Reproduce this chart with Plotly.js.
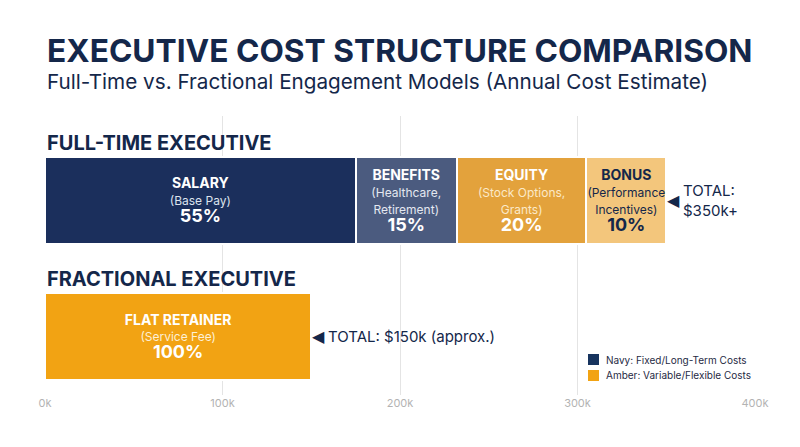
<!DOCTYPE html>
<html>
<head>
<meta charset="utf-8">
<script src="https://cdn.plot.ly/plotly-3.0.1.min.js"></script>
<style>
  html, body { margin: 0; padding: 0; background: #ffffff; }
  #chart { width: 800px; height: 447px; }
</style>
</head>
<body>
<div id="chart"></div>
<script>
// full-time components (annual cost in $k, as drawn)
const ftSegments = ['SALARY', 'BENEFITS', 'EQUITY', 'BONUS'];
const ftNotes = ['(Base Pay)', '(Healthcare,<br>Retirement)', '(Stock Options,<br>Grants)', '(Performance<br>Incentives)'];
const ftShares = [55, 15, 20, 10];
const ftCosts = [175, 57, 73, 45];
const ftColors = ['#1b2f5c', '#4b5b7f', '#e3a23c', '#f3c67c'];
const ftTextColors = ['#ffffff', '#ffffff', '#ffffff', '#14274a'];
const ftNoteColors = ['#dde3ee', '#e4e8f0', '#fbe9c8', '#14274a'];

// fractional
const frSegments = ['FLAT RETAINER'];
const frNotes = ['(Service Fee)'];
const frShares = [100];
const frCosts = [150];

const rows = ['Fractional', 'Full-Time'];
const xTicks = [0, 100, 200, 300, 400];
const xTickText = xTicks.map(v => v + 'k');

const navy = '#14274a';
const font = 'Inter, "Liberation Sans", Arial, sans-serif';

function barText(seg, note, share, noteColor) {
  return '<b><span style="font-size:14px">' + seg + '</span></b><br><span style="font-size:12px;color:' + noteColor + '">' + note +
    '</span><br><b><span style="font-size:18px">' + share + '%</span></b>';
}

let traces = [];
for (let i = 0; i < ftSegments.length; i++) {
  traces.push({
    type: 'bar',
    orientation: 'h',
    x: [ftCosts[i]],
    y: ['Full-Time'],
    width: 0.64,
    marker: {color: ftColors[i], line: {color: '#ffffff', width: 2}},
    text: [barText(ftSegments[i], ftNotes[i], ftShares[i], ftNoteColors[i])],
    textposition: 'inside',
    insidetextanchor: 'middle',
    textangle: 0,
    constraintext: 'none',
    textfont: {family: font, size: 13, color: ftTextColors[i]},
    hoverinfo: 'none',
    showlegend: false
  });
}
traces.push({
  type: 'bar',
  orientation: 'h',
  x: frCosts,
  y: ['Fractional'],
  width: 0.64,
  marker: {color: '#f2a313', line: {color: '#ffffff', width: 2}},
  text: [barText(frSegments[0], frNotes[0], frShares[0], '#fdf0d6')],
  textposition: 'inside',
  insidetextanchor: 'middle',
  textangle: 0,
  constraintext: 'none',
  textfont: {family: font, size: 13, color: '#ffffff'},
  hoverinfo: 'none',
  showlegend: false
});

const ftTotal = ftCosts.reduce((a, b) => a + b, 0);
const frTotal = frCosts.reduce((a, b) => a + b, 0);

const annotations = [
  {xref: 'paper', yref: 'paper', x: 0, y: 1.235, xanchor: 'left', yanchor: 'middle', showarrow: false,
   text: '<b>EXECUTIVE COST STRUCTURE COMPARISON</b>', font: {family: font, size: 31.7, color: navy}},
  {xref: 'paper', yref: 'paper', x: 0, y: 1.122, xanchor: 'left', yanchor: 'middle', showarrow: false,
   text: 'Full-Time vs. Fractional Engagement Models (Annual Cost Estimate)', font: {family: font, size: 20.7, color: navy}},
  {xref: 'paper', yref: 'paper', x: 0, y: 0.903, xanchor: 'left', yanchor: 'middle', showarrow: false,
   text: '<b>FULL-TIME EXECUTIVE</b>', font: {family: font, size: 20, color: navy}},
  {xref: 'paper', yref: 'paper', x: 0, y: 0.414, xanchor: 'left', yanchor: 'middle', showarrow: false,
   text: '<b>FRACTIONAL EXECUTIVE</b>', font: {family: font, size: 20, color: navy}},
  {x: ftTotal, y: 'Full-Time', xanchor: 'left', yanchor: 'middle', xshift: -1, showarrow: false,
   text: '◀', font: {family: 'DejaVu Sans', size: 16, color: navy}},
  {x: ftTotal, y: 'Full-Time', xanchor: 'left', yanchor: 'middle', xshift: 15, showarrow: false, align: 'left',
   text: 'TOTAL:<br>$' + ftTotal + 'k+', font: {family: font, size: 15, color: navy}},
  {x: frTotal, y: 'Fractional', xanchor: 'left', yanchor: 'middle', xshift: -1, showarrow: false,
   text: '◀', font: {family: 'DejaVu Sans', size: 16, color: navy}},
  {x: frTotal, y: 'Fractional', xanchor: 'left', yanchor: 'middle', xshift: 15, showarrow: false,
   text: 'TOTAL: $' + frTotal + 'k (approx.)', font: {family: font, size: 15, color: navy}},
  {xref: 'paper', yref: 'paper', x: 0.787, y: 0.127, xanchor: 'left', yanchor: 'middle', showarrow: false,
   text: 'Navy: Fixed/Long-Term Costs', font: {family: font, size: 10, color: '#1f2a44'}},
  {xref: 'paper', yref: 'paper', x: 0.787, y: 0.070, xanchor: 'left', yanchor: 'middle', showarrow: false,
   text: 'Amber: Variable/Flexible Costs', font: {family: font, size: 10, color: '#1f2a44'}}
];

const shapes = [
  {type: 'rect', xref: 'paper', yref: 'paper', x0: 0.7648, x1: 0.7803, y0: 0.1075, y1: 0.147,
   fillcolor: '#17345e', line: {width: 0}},
  {type: 'rect', xref: 'paper', yref: 'paper', x0: 0.7648, x1: 0.7803, y0: 0.0502, y1: 0.0896,
   fillcolor: '#f2a313', line: {width: 0}}
];

const layout = {
  width: 800,
  height: 447,
  margin: {l: 45, r: 45, t: 116, b: 52},
  paper_bgcolor: '#ffffff',
  plot_bgcolor: '#ffffff',
  barmode: 'stack',
  bargap: 0,
  showlegend: false,
  xaxis: {
    range: [0, 400],
    tickmode: 'array',
    tickvals: xTicks,
    ticktext: xTickText,
    showgrid: true,
    gridcolor: '#e4e4e4',
    gridwidth: 1,
    zeroline: false,
    showline: false,
    ticks: '',
    tickfont: {family: font, size: 11, color: '#b3b3b3'},
    fixedrange: true
  },
  yaxis: {
    type: 'category',
    categoryorder: 'array',
    categoryarray: rows,
    range: [-0.43, 1.62],
    showticklabels: false,
    showgrid: false,
    zeroline: false,
    showline: false,
    fixedrange: true
  },
  annotations: annotations,
  shapes: shapes
};

Plotly.newPlot('chart', traces, layout, {displayModeBar: false, staticPlot: true});
</script>
</body>
</html>
